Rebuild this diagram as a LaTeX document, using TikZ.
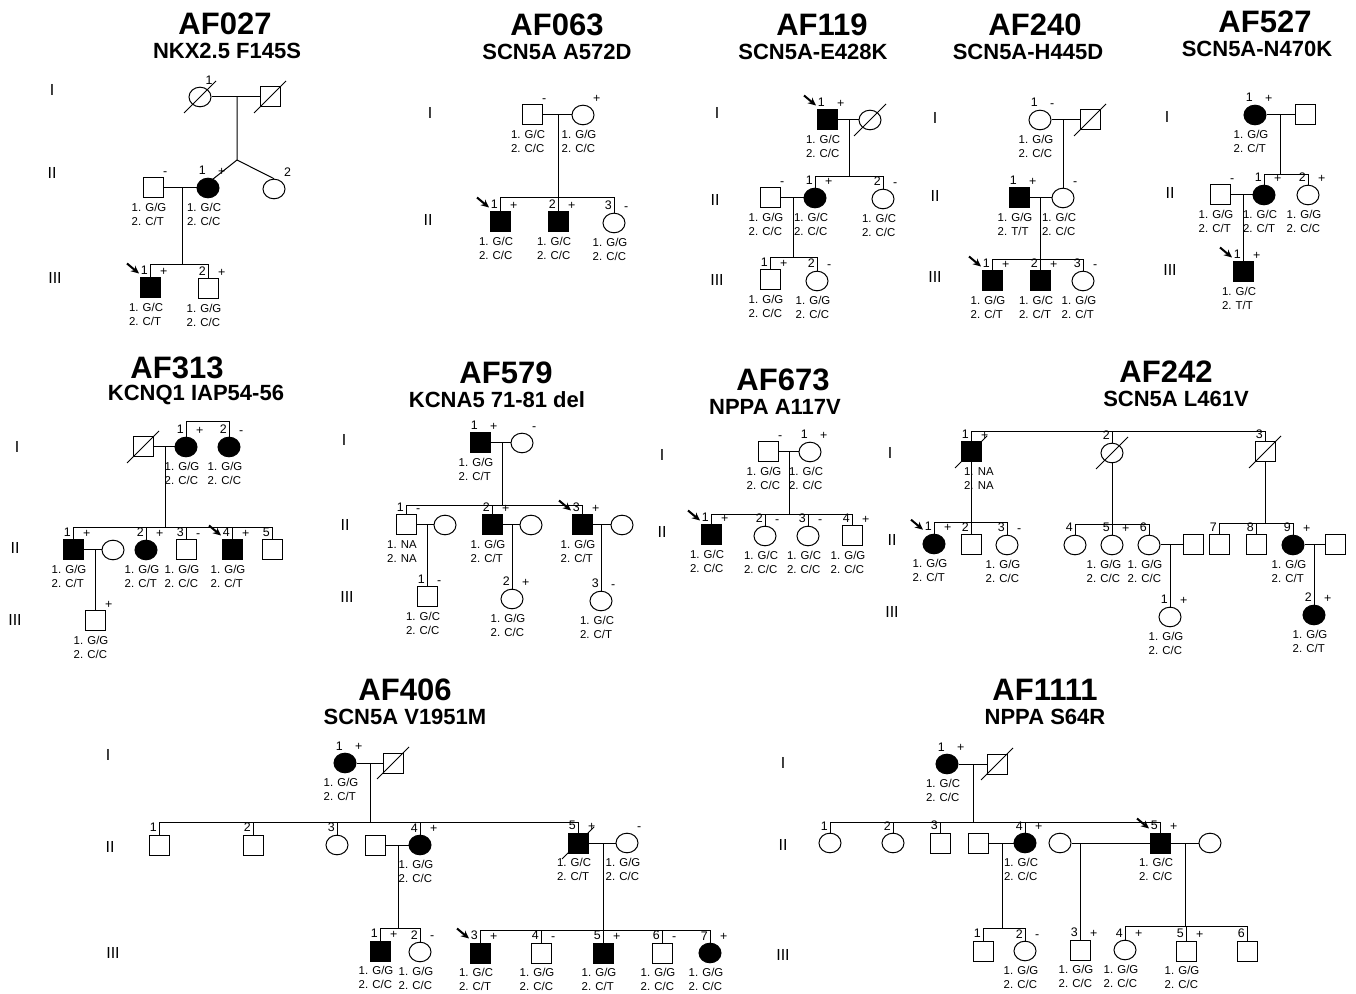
\documentclass[tikz,border=0pt]{standalone}
\usepackage{fontspec}
\setmainfont{Liberation Sans}
\usetikzlibrary{shapes.geometric,arrows.meta}

\newcommand{\idlab}[3]{%
  \node[lab,anchor=south east] (#1-n) at ([xshift=-0.6pt,yshift=0.8pt]#1.north) {#2};
  \node[lab,anchor=south west] (#1-s) at ([xshift=4.5pt,yshift=0.6pt]#1.north) {#3};}
\newcommand{\geno}[3]{%
  \node[gt] (#1-g) at ([xshift=-2pt,yshift=-2pt]#1.south) {1. #2\\2. #3};}
\newcommand{\dead}[1]{\draw[line width=0.4pt] (#1.center) ++(-16,16) -- ++(32,-32);}
\newcommand{\proband}[1]{%
  \coordinate (#1-a) at ([shift={(-23,-14)}]#1.north);
  \draw[pb] (#1-a) -- ([shift={(-11,-4)}]#1.north);}

\begin{document}
\begin{tikzpicture}[x=0.5pt,y=-0.5pt,line width=0.5pt,
  male/.style={draw,rectangle,minimum size=10pt,inner sep=0pt},
  female/.style={draw,ellipse,minimum width=11pt,minimum height=9.8pt,inner sep=0pt},
  aff/.style={fill=black},
  lab/.style={font=\fontsize{6.2}{6.2}\selectfont,inner sep=0.3pt},
  gt/.style={font=\fontsize{5.7}{7}\selectfont,align=left,anchor=north,inner sep=0.3pt},
  gen/.style={font=\fontsize{8}{8}\selectfont},
  ttl/.style={font=\bfseries\fontsize{15.5}{16}\selectfont},
  sub/.style={font=\bfseries\fontsize{11}{12}\selectfont},
  pb/.style={-{Stealth[length=4pt,width=3.6pt]},line width=1pt}]
\useasboundingbox (0,0) rectangle (1356,994);

\foreach \tn/\tx/\ty/\sx/\ts in {AF027/225/24/227/NKX2.5 F145S, AF063/557/25/557/SCN5A A572D,
  AF119/822/25/813/SCN5A-E428K, AF240/1035/25/1028/SCN5A-H445D, AF527/1265/22/1257/SCN5A-N470K,
  AF313/177/368/196/KCNQ1 IAP54-56, AF579/506/373/497/KCNA5 71-81 del, AF673/783/380/775/NPPA A117V,
  AF242/1166/372/1176/SCN5A L461V, AF406/405/690/405/SCN5A V1951M, AF1111/1045/690/1045/NPPA S64R} {
  \node[ttl] (t\tn) at (\tx,\ty) {\tn};
  \node[sub] (s\tn) at (\sx,\ty+27) {\ts};
}
\foreach \gx/\gy/\gr [count=\k] in {52/90/I,52/173/II,55/278/III, 430/113/I,428/220/II,
  717/113/I,715/200/II,717/280/III, 935/118/I,935/196/II,935/277/III,
  1167/117/I,1170/193/II,1170/270/III, 17/447/I,15/548/II,15/620/III,
  344/440/I,345/525/II,347/597/III, 662/455/I,662/532/II, 890/453/I,892/540/II,892/612/III,
  108/755/I,110/847/II,113/953/III, 783/763/I,783/845/II,783/955/III}
  \node[gen] (g\k) at (\gx,\gy) {\gr};

% AF027
\node[female] (p27i1) at (200,97) {};
\node[male] (p27i2) at (270,97) {};
\dead{p27i1} \dead{p27i2}
\draw (p27i1) -- (p27i2);
\coordinate (p27f1) at (237,97);
\coordinate (p27s1) at (237,160);
\node[female,aff] (p27ii1) at (208,188) {};
\node[female] (p27ii2) at (274,189) {};
\draw (p27f1) -- (p27s1) -- (p27ii1.60);
\draw (p27s1) -- (p27ii2.north);
\node[male] (p27sp) at (153,188) {};
\draw (p27sp) -- (p27ii1);
\coordinate (p27f2) at (182,188);
\coordinate (p27s2) at (182,265);
\draw (p27f2) -- (p27s2);
\node[male,aff] (p27iii1) at (150,288) {};
\node[male] (p27iii2) at (208,289) {};
\foreach \ch in {p27iii1,p27iii2} \draw (p27s2) -| (\ch.north);
\node[lab] (p27i1-n) at (209,80) {1};
\idlab{p27ii1}{1}{+} \idlab{p27ii2}{}{2} \idlab{p27sp}{}{-}
\idlab{p27iii1}{1}{+} \idlab{p27iii2}{2}{+} \proband{p27iii1}
\geno{p27sp}{G/G}{C/T} \geno{p27ii1}{G/C}{C/C} \geno{p27iii1}{G/C}{C/T} \geno{p27iii2}{G/G}{C/C}

% AF063
\node[male] (p63i1) at (532,115) {};
\node[female] (p63i2) at (583,115) {};
\draw (p63i1) -- (p63i2);
\coordinate (p63f) at (558,115);
\coordinate (p63s) at (558,198);
\draw (p63f) -- (p63s);
\node[male,aff] (p63ii1) at (500,222) {};
\node[male,aff] (p63ii2) at (558,222) {};
\node[female] (p63ii3) at (614,223) {};
\foreach \ch in {p63ii1,p63ii2,p63ii3} \draw (p63s) -| (\ch.north);
\idlab{p63i1}{}{-} \idlab{p63i2}{}{+} \idlab{p63ii1}{1}{+} \idlab{p63ii2}{2}{+} \idlab{p63ii3}{3}{-}
\proband{p63ii1}
\geno{p63i1}{G/C}{C/C} \geno{p63i2}{G/G}{C/C} \geno{p63ii1}{G/C}{C/C} \geno{p63ii2}{G/C}{C/C} \geno{p63ii3}{G/G}{C/C}

% AF119
\node[male,aff] (p119i1) at (827,120) {};
\node[female] (p119i2) at (870,120) {};
\dead{p119i2}
\draw (p119i1) -- (p119i2);
\coordinate (p119f1) at (849,120);
\coordinate (p119s1) at (849,177);
\draw (p119f1) -- (p119s1);
\node[female,aff] (p119ii1) at (815,198) {};
\node[female] (p119ii2) at (883,199) {};
\foreach \ch in {p119ii1,p119ii2} \draw (p119s1) -| (\ch.north);
\node[male] (p119sp) at (770,198) {};
\draw (p119sp) -- (p119ii1);
\coordinate (p119f2) at (793,198);
\coordinate (p119s2) at (793,258);
\draw (p119f2) -- (p119s2);
\node[male] (p119iii1) at (770,280) {};
\node[female] (p119iii2) at (817,281) {};
\foreach \ch in {p119iii1,p119iii2} \draw (p119s2) -| (\ch.north);
\idlab{p119i1}{1}{+} \proband{p119i1}
\idlab{p119ii1}{1}{+} \idlab{p119ii2}{2}{-} \idlab{p119sp}{}{-}
\idlab{p119iii1}{1}{+} \idlab{p119iii2}{2}{-}
\geno{p119i1}{G/C}{C/C} \geno{p119sp}{G/G}{C/C} \geno{p119ii1}{G/C}{C/C} \geno{p119ii2}{G/C}{C/C}
\geno{p119iii1}{G/G}{C/C} \geno{p119iii2}{G/G}{C/C}

% AF240
\node[female] (p240i1) at (1040,120) {};
\node[male] (p240i2) at (1090,120) {};
\dead{p240i2}
\draw (p240i1) -- (p240i2);
\coordinate (p240f1) at (1063,120);
\node[female] (p240ii2) at (1063,198) {};
\draw (p240f1) -- (p240ii2.north);
\node[male,aff] (p240ii1) at (1019,198) {};
\draw (p240ii1) -- (p240ii2);
\coordinate (p240f2) at (1040,198);
\coordinate (p240s2) at (1040,260);
\draw (p240f2) -- (p240s2);
\node[male,aff] (p240iii1) at (992,281) {};
\node[male,aff] (p240iii2) at (1040,281) {};
\node[female] (p240iii3) at (1083,281) {};
\foreach \ch in {p240iii1,p240iii2,p240iii3} \draw (p240s2) -| (\ch.north);
\idlab{p240i1}{1}{-} \idlab{p240ii1}{1}{+} \idlab{p240ii2}{}{-}
\idlab{p240iii1}{1}{+} \idlab{p240iii2}{2}{+} \idlab{p240iii3}{3}{-} \proband{p240iii1}
\geno{p240i1}{G/G}{C/C} \geno{p240ii1}{G/G}{T/T} \geno{p240ii2}{G/C}{C/C}
\geno{p240iii1}{G/G}{C/T} \geno{p240iii2}{G/C}{C/T} \geno{p240iii3}{G/G}{C/T}

% AF527
\node[female,aff] (p527i1) at (1255,115) {};
\node[male] (p527i2) at (1305,115) {};
\draw (p527i1) -- (p527i2);
\coordinate (p527f1) at (1280,115);
\coordinate (p527s1) at (1280,175);
\draw (p527f1) -- (p527s1);
\node[female,aff] (p527ii1) at (1264,195) {};
\node[female] (p527ii2) at (1308,195) {};
\foreach \ch in {p527ii1,p527ii2} \draw (p527s1) -| (\ch.north);
\node[male] (p527sp) at (1220,195) {};
\draw (p527sp) -- (p527ii1);
\coordinate (p527f2) at (1243,195);
\node[male,aff] (p527iii1) at (1243,272) {};
\draw (p527f2) -- (p527iii1.north);
\idlab{p527i1}{1}{+} \idlab{p527ii1}{1}{+} \idlab{p527ii2}{2}{+} \idlab{p527sp}{}{-}
\idlab{p527iii1}{1}{+} \proband{p527iii1}
\geno{p527i1}{G/G}{C/T} \geno{p527sp}{G/G}{C/T} \geno{p527ii1}{G/C}{C/T} \geno{p527ii2}{G/G}{C/C}
\geno{p527iii1}{G/C}{T/T}

% AF313
\node[male] (p313i1) at (143,447) {};
\dead{p313i1}
\node[female,aff] (p313i2) at (186,447) {};
\node[female,aff] (p313i3) at (229,447) {};
\draw (p313i1) -- (p313i2);
\coordinate (p313t) at (207,422);
\foreach \ch in {p313i2,p313i3} \draw (p313t) -| (\ch.north);
\coordinate (p313f1) at (165,447);
\coordinate (p313s1) at (165,528);
\draw (p313f1) -- (p313s1);
\node[male,aff] (p313ii1) at (73,550) {};
\node[female] (p313w) at (113,550) {};
\node[female,aff] (p313ii2) at (146,550) {};
\node[male] (p313ii3) at (186,550) {};
\node[male,aff] (p313ii4) at (232,550) {};
\node[male] (p313ii5) at (272,550) {};
\foreach \ch in {p313ii1,p313ii2,p313ii3,p313ii4,p313ii5} \draw (p313s1) -| (\ch.north);
\draw (p313ii1) -- (p313w);
\coordinate (p313f2) at (95,550);
\node[male] (p313iii1) at (95,621) {};
\draw (p313f2) -- (p313iii1.north);
\idlab{p313i2}{1}{+} \idlab{p313i3}{2}{-}
\idlab{p313ii1}{1}{+} \idlab{p313ii2}{2}{+} \idlab{p313ii3}{3}{-} \idlab{p313ii4}{4}{+} \idlab{p313ii5}{5}{}
\idlab{p313iii1}{}{+} \proband{p313ii4}
\geno{p313i2}{G/G}{C/C} \geno{p313i3}{G/G}{C/C} \geno{p313ii1}{G/G}{C/T} \geno{p313ii2}{G/G}{C/T}
\geno{p313ii3}{G/G}{C/C} \geno{p313ii4}{G/G}{C/T} \geno{p313iii1}{G/G}{C/C}

% AF579
\node[male,aff] (p579i1) at (480,443) {};
\node[female] (p579i2) at (522,443) {};
\draw (p579i1) -- (p579i2);
\coordinate (p579f1) at (502,443);
\coordinate (p579s1) at (502,506);
\draw (p579f1) -- (p579s1);
\node[male] (p579ii1) at (406,525) {};
\node[female] (p579w1) at (445,525) {};
\node[male,aff] (p579ii2) at (492,525) {};
\node[female] (p579w2) at (531,525) {};
\node[male,aff] (p579ii3) at (582,525) {};
\node[female] (p579w3) at (622,525) {};
\foreach \ch in {p579ii1,p579ii2,p579ii3} \draw (p579s1) -| (\ch.north);
\draw (p579ii1) -- (p579w1);
\draw (p579ii2) -- (p579w2);
\draw (p579ii3) -- (p579w3);
\coordinate (p579f2) at (427,525);
\coordinate (p579f3) at (512,525);
\coordinate (p579f4) at (601,525);
\node[male] (p579iii1) at (427,597) {};
\node[female] (p579iii2) at (512,599) {};
\node[female] (p579iii3) at (601,601) {};
\draw (p579f2) -- (p579iii1.north);
\draw (p579f3) -- (p579iii2.north);
\draw (p579f4) -- (p579iii3.north);
\idlab{p579i1}{1}{+} \idlab{p579i2}{}{-} \idlab{p579ii1}{1}{-} \idlab{p579ii2}{2}{+} \idlab{p579ii3}{3}{+}
\idlab{p579iii1}{1}{-} \idlab{p579iii2}{2}{+} \idlab{p579iii3}{3}{-} \proband{p579ii3}
\geno{p579i1}{G/G}{C/T} \geno{p579ii1}{NA}{NA} \geno{p579ii2}{G/G}{C/T} \geno{p579ii3}{G/G}{C/T}
\geno{p579iii1}{G/C}{C/C} \geno{p579iii2}{G/G}{C/C} \geno{p579iii3}{G/C}{C/T}

% AF673
\node[male] (p673i1) at (768,452) {};
\node[female] (p673i2) at (810,452) {};
\draw (p673i1) -- (p673i2);
\coordinate (p673f) at (789,452);
\coordinate (p673s) at (789,515);
\draw (p673f) -- (p673s);
\node[male,aff] (p673ii1) at (711,535) {};
\node[female] (p673ii2) at (765,536) {};
\node[female] (p673ii3) at (808,536) {};
\node[male] (p673ii4) at (852,536) {};
\foreach \ch in {p673ii1,p673ii2,p673ii3,p673ii4} \draw (p673s) -| (\ch.north);
\idlab{p673i1}{}{-} \idlab{p673i2}{1}{+} \idlab{p673ii1}{1}{+} \idlab{p673ii2}{2}{-}
\idlab{p673ii3}{3}{-} \idlab{p673ii4}{4}{+} \proband{p673ii1}
\geno{p673i1}{G/G}{C/C} \geno{p673i2}{G/C}{C/C} \geno{p673ii1}{G/C}{C/C} \geno{p673ii2}{G/C}{C/C}
\geno{p673ii3}{G/C}{C/C} \geno{p673ii4}{G/G}{C/C}

% AF242
\coordinate (p242t) at (1112,432);
\node[male,aff] (p242i1) at (971,452) {};
\node[female] (p242i2) at (1112,453) {};
\node[male] (p242i3) at (1265,452) {};
\dead{p242i1} \dead{p242i2} \dead{p242i3}
\foreach \ch in {p242i1,p242i2,p242i3} \draw (p242t) -| (\ch.north);
\coordinate (p242s1) at (971,523);
\draw (p242i1) -- (p242s1);
\node[female,aff] (p242ii1) at (934,544) {};
\node[male] (p242ii2) at (971,545) {};
\node[female] (p242ii3) at (1007,545) {};
\foreach \ch in {p242ii1,p242ii2,p242ii3} \draw (p242s1) -| (\ch.north);
\coordinate (p242s2) at (1112,525);
\draw (p242i2) -- (p242s2);
\node[female] (p242ii4) at (1075,545) {};
\node[female] (p242ii5) at (1112,545) {};
\node[female] (p242ii6) at (1149,545) {};
\foreach \ch in {p242ii4,p242ii5,p242ii6} \draw (p242s2) -| (\ch.north);
\node[male] (p242sp6) at (1193,545) {};
\draw (p242ii6) -- (p242sp6);
\coordinate (p242f6) at (1170,545);
\node[female] (p242iii1) at (1170,617) {};
\draw (p242f6) -- (p242iii1.north);
\coordinate (p242s3) at (1265,524);
\draw (p242i3) -- (p242s3);
\node[male] (p242ii7) at (1219,545) {};
\node[male] (p242ii8) at (1256,545) {};
\node[female,aff] (p242ii9) at (1293,545) {};
\foreach \ch in {p242ii7,p242ii8,p242ii9} \draw (p242s3) -| (\ch.north);
\node[male] (p242sp9) at (1335,545) {};
\draw (p242ii9) -- (p242sp9);
\coordinate (p242f9) at (1314,545);
\node[female,aff] (p242iii2) at (1314,615) {};
\draw (p242f9) -- (p242iii2.north);
\idlab{p242i1}{1}{+} \idlab{p242i2}{2}{} \idlab{p242i3}{3}{}
\idlab{p242ii1}{1}{+} \idlab{p242ii2}{2}{} \idlab{p242ii3}{3}{-} \idlab{p242ii4}{4}{} \idlab{p242ii5}{5}{+}
\idlab{p242ii6}{6}{} \idlab{p242ii7}{7}{} \idlab{p242ii8}{8}{} \idlab{p242ii9}{9}{+}
\idlab{p242iii1}{1}{+} \idlab{p242iii2}{2}{+} \proband{p242ii1}
\node[gt,anchor=north west] (p242i1-g) at ([xshift=-4pt,yshift=-2pt]p242i1.south) {1. NA\\2. NA};
\node[gt] (p242ii5-g) at ([xshift=-4pt,yshift=-2pt]p242ii5.south) {1. G/G\\2. C/C};
\geno{p242ii1}{G/G}{C/T} \geno{p242ii3}{G/G}{C/C} \geno{p242ii6}{G/G}{C/C}
\geno{p242ii9}{G/G}{C/T} \geno{p242iii1}{G/G}{C/C} \geno{p242iii2}{G/G}{C/T}

% AF406
\node[female,aff] (p406i1) at (345,763) {};
\node[male] (p406i2) at (393,763) {};
\dead{p406i2}
\draw (p406i1) -- (p406i2);
\coordinate (p406f1) at (370,763);
\coordinate (p406s1) at (370,822);
\draw (p406f1) -- (p406s1);
\node[male] (p406ii1) at (159,845) {};
\node[male] (p406ii2) at (253,845) {};
\node[female] (p406ii3) at (337,845) {};
\node[female,aff] (p406ii4) at (420,845) {};
\node[male,aff] (p406ii5) at (578,843) {};
\dead{p406ii5}
\foreach \ch in {p406ii1,p406ii2,p406ii3,p406ii4,p406ii5} \draw (p406s1) -| (\ch.north);
\node[male] (p406sp4) at (375,845) {};
\draw (p406sp4) -- (p406ii4);
\coordinate (p406f4) at (398,845);
\coordinate (p406s4) at (398,928);
\draw (p406f4) -- (p406s4);
\node[male,aff] (p406iii1) at (380,951) {};
\node[female] (p406iii2) at (420,952) {};
\foreach \ch in {p406iii1,p406iii2} \draw (p406s4) -| (\ch.north);
\node[female] (p406sp5) at (627,843) {};
\draw (p406ii5) -- (p406sp5);
\coordinate (p406f5) at (603,843);
\coordinate (p406s5) at (603,930);
\draw (p406f5) -- (p406s5);
\node[male,aff] (p406iii3) at (480,953) {};
\node[male] (p406iii4) at (541,953) {};
\node[male,aff] (p406iii5) at (603,953) {};
\node[male] (p406iii6) at (662,953) {};
\node[female,aff] (p406iii7) at (710,953) {};
\foreach \ch in {p406iii3,p406iii4,p406iii5,p406iii6,p406iii7} \draw (p406s5) -| (\ch.north);
\idlab{p406i1}{1}{+} \idlab{p406ii1}{1}{} \idlab{p406ii2}{2}{} \idlab{p406ii3}{3}{} \idlab{p406ii4}{4}{+}
\idlab{p406ii5}{5}{+} \idlab{p406sp5}{}{-} \idlab{p406iii1}{1}{+} \idlab{p406iii2}{2}{-}
\idlab{p406iii3}{3}{+} \idlab{p406iii4}{4}{-} \idlab{p406iii5}{5}{+} \idlab{p406iii6}{6}{-} \idlab{p406iii7}{7}{+}
\proband{p406iii3}
\geno{p406i1}{G/G}{C/T} \geno{p406ii4}{G/G}{C/C} \geno{p406ii5}{G/C}{C/T} \geno{p406sp5}{G/G}{C/C}
\geno{p406iii1}{G/G}{C/C} \geno{p406iii2}{G/G}{C/C} \geno{p406iii3}{G/C}{C/T} \geno{p406iii4}{G/G}{C/C}
\geno{p406iii5}{G/G}{C/T} \geno{p406iii6}{G/G}{C/C} \geno{p406iii7}{G/G}{C/C}

% AF1111
\node[female,aff] (p1111i1) at (947,764) {};
\node[male] (p1111i2) at (997,764) {};
\dead{p1111i2}
\draw (p1111i1) -- (p1111i2);
\coordinate (p1111f1) at (973,764);
\coordinate (p1111s1) at (973,822);
\draw (p1111f1) -- (p1111s1);
\node[female] (p1111ii1) at (830,843) {};
\node[female] (p1111ii2) at (893,843) {};
\node[male] (p1111ii3) at (940,843) {};
\node[female,aff] (p1111ii4) at (1025,843) {};
\node[male,aff] (p1111ii5) at (1160,843) {};
\foreach \ch in {p1111ii1,p1111ii2,p1111ii3,p1111ii4,p1111ii5} \draw (p1111s1) -| (\ch.north);
\node[male] (p1111sp4) at (978,843) {};
\draw (p1111sp4) -- (p1111ii4);
\coordinate (p1111f4) at (1002,843);
\coordinate (p1111s4) at (1002,928);
\draw (p1111f4) -- (p1111s4);
\node[male] (p1111iii1) at (983,951) {};
\node[female] (p1111iii2) at (1025,951) {};
\foreach \ch in {p1111iii1,p1111iii2} \draw (p1111s4) -| (\ch.north);
\node[female] (p1111w1) at (1060,843) {};
\draw (p1111w1) -- (p1111ii5);
\coordinate (p1111f5) at (1080,843);
\node[male] (p1111iii3) at (1080,950) {};
\draw (p1111f5) -- (p1111iii3.north);
\node[female] (p1111w2) at (1210,843) {};
\draw (p1111ii5) -- (p1111w2);
\coordinate (p1111f6) at (1185,843);
\coordinate (p1111s6) at (1185,926);
\draw (p1111f6) -- (p1111s6);
\node[female] (p1111iii4) at (1125,950) {};
\node[male] (p1111iii5) at (1186,951) {};
\node[male] (p1111iii6) at (1247,951) {};
\foreach \ch in {p1111iii4,p1111iii5,p1111iii6} \draw (p1111s6) -| (\ch.north);
\idlab{p1111i1}{1}{+} \idlab{p1111ii1}{1}{} \idlab{p1111ii2}{2}{} \idlab{p1111ii3}{3}{}
\idlab{p1111ii4}{4}{+} \idlab{p1111ii5}{5}{+} \idlab{p1111iii1}{1}{} \idlab{p1111iii2}{2}{-}
\idlab{p1111iii3}{3}{+} \idlab{p1111iii4}{4}{+} \idlab{p1111iii5}{5}{+} \idlab{p1111iii6}{6}{}
\proband{p1111ii5}
\geno{p1111i1}{G/C}{C/C} \geno{p1111ii4}{G/C}{C/C} \geno{p1111ii5}{G/C}{C/C} \geno{p1111iii2}{G/G}{C/C}
\geno{p1111iii3}{G/G}{C/C} \geno{p1111iii4}{G/G}{C/C} \geno{p1111iii5}{G/G}{C/C}
\end{tikzpicture}
\end{document}
